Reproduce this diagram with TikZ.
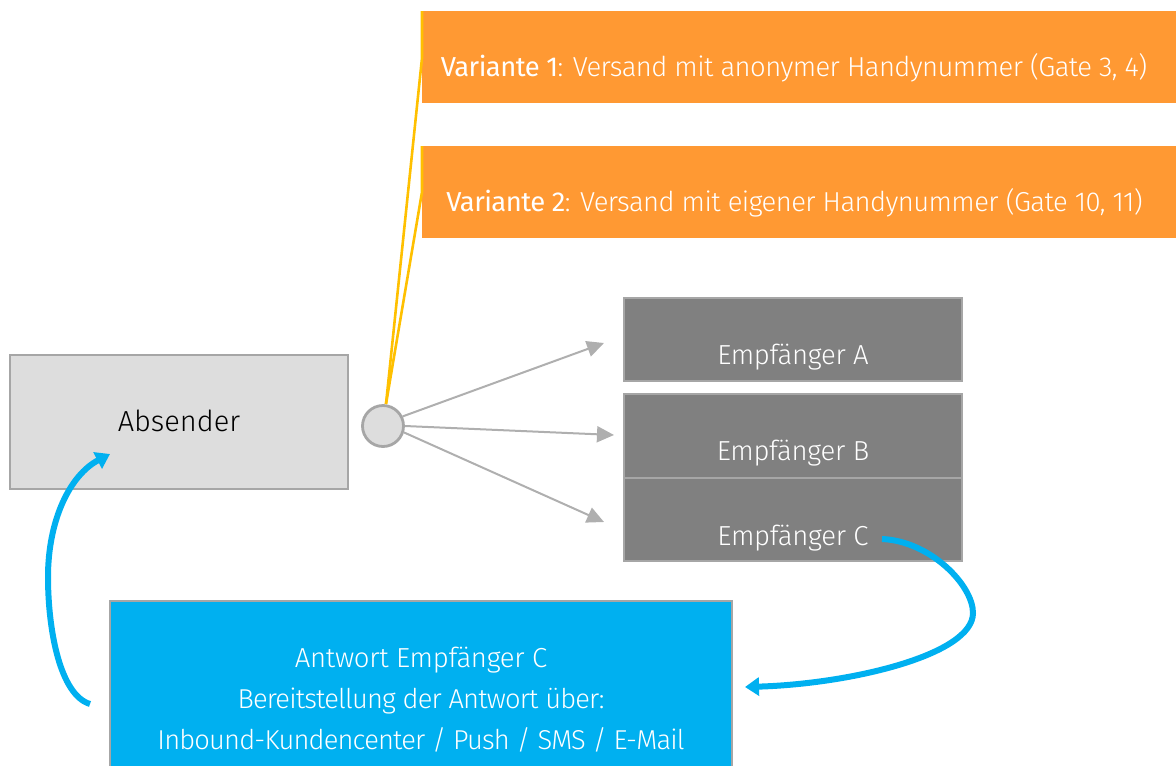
\documentclass[tikz,border=0pt]{standalone}
\usepackage{fontspec}
\setmainfont{Fira Sans Light}[BoldFont={Fira Sans}]
\newfontfamily\tightA{Fira Sans Light}[BoldFont={Fira Sans},LetterSpace=-1]
\newfontfamily\tightB{Fira Sans Light}[BoldFont={Fira Sans},LetterSpace=-2]
\newfontfamily\tightC{Fira Sans Light}[BoldFont={Fira Sans},LetterSpace=-3]
\usetikzlibrary{arrows.meta,shapes.geometric}
\definecolor{orangebox}{HTML}{FF9933}
\definecolor{calloutline}{HTML}{FFC000}
\definecolor{edgegrey}{HTML}{A6A6A6}
\definecolor{lightbox}{HTML}{DDDDDD}
\definecolor{darkbox}{HTML}{808080}
\definecolor{bluebox}{HTML}{00B0F0}
\tikzset{
  x=1pt,y=-1pt,
  txt/.style={inner sep=0pt,anchor=center},
  sizeA/.style={font=\tightA\fontsize{27.5}{30}\selectfont},
  sizeB/.style={font=\tightB\fontsize{27.4}{30}\selectfont},
  sizeC/.style={font=\tightC\fontsize{27.3}{30}\selectfont},
  sizeD/.style={font=\fontsize{29}{32}\selectfont},
  rbox/.style={draw=edgegrey,line width=2.7pt},
  variantbox/.style={fill=orangebox},
  callout/.style={draw=calloutline,line width=2.6pt},
  fan/.style={draw=edgegrey!90,line width=2pt,-{Triangle[length=17pt,width=16pt]}},
  reply/.style={draw=bluebox,line width=6pt,-{Triangle[length=14pt,width=18pt]}},
}
\begin{document}
\begin{tikzpicture}
\useasboundingbox (0,0) rectangle (1176,766);
\clip (0,0) rectangle (1176,766);
% orange variant bars
\fill[variantbox] (422,11) rectangle (1176,103);
\fill[variantbox] (422,146) rectangle (1176,238);
% boxes
\draw[rbox,fill=lightbox] (10,355) rectangle (348,489);
\draw[rbox,fill=darkbox] (624,298) rectangle (962,381);
\draw[rbox,fill=darkbox] (624,394) rectangle (962,478);
\draw[rbox,fill=darkbox] (624,478) rectangle (962,561);
\draw[rbox,fill=bluebox] (110,601) rectangle (732,780);
% hub
\node[circle,draw=edgegrey,line width=2.8pt,fill=lightbox,minimum size=41pt,inner sep=0pt] (hub) at (383,426) {};
% callouts
\coordinate (v1top) at (422,11);
\coordinate (v1mid) at (422,58);
\coordinate (v2top) at (422,146);
\coordinate (v2mid) at (422,192);
\coordinate (hubtop) at (386,404);
\draw[callout] (v1top) -- (v1mid) -- (hubtop);
\draw[callout] (v2top) -- (v2mid) -- (hubtop);
% fan arrows
\coordinate (ta) at (604,343);
\coordinate (tb) at (614,435);
\coordinate (tc) at (604,522);
\draw[fan] (hub.26) -- (ta);
\draw[fan] (hub.0) -- (tb);
\draw[fan] (hub.-17) -- (tc);
% text
\node[txt,sizeB,text=white] (v1) at (794,68) {\textbf{Variante 1}: Versand mit anonymer Handynummer (Gate 3, 4)};
\node[txt,sizeB,text=white] (v2) at (794.5,203) {\textbf{Variante 2}: Versand mit eigener Handynummer (Gate 10, 11)};
\node[txt,sizeD,text=black] (abs) at (179,421) {Absender};
\node[txt,sizeA,text=white] (ea) at (793,357) {Empfänger A};
\node[txt,sizeA,text=white] (eb) at (793,453) {Empfänger B};
\node[txt,sizeA,text=white] (ec) at (793,538) {Empfänger C};
\node[txt,sizeA,text=white] (b1) at (421,660) {Antwort Empfänger C};
\node[txt,sizeC,text=white] (b2) at (421,701) {Bereitstellung der Antwort über:};
\node[txt,sizeC,text=white] (b3) at (421,740) {Inbound-Kundencenter / Push / SMS / E-Mail};
% reply curves
\coordinate (r1s) at (882,539);
\coordinate (r1t) at (745,687);
\coordinate (r2s) at (90,704);
\coordinate (r2t) at (110,454);
\draw[reply] (r1s) .. controls (930,541) and (973,585) .. (973,613) .. controls (973,655) and (850,684) .. (r1t);
\draw[reply] (r2s) .. controls (60,695) and (48,630) .. (48,577) .. controls (48,520) and (70,475) .. (r2t);
\end{tikzpicture}
\end{document}
